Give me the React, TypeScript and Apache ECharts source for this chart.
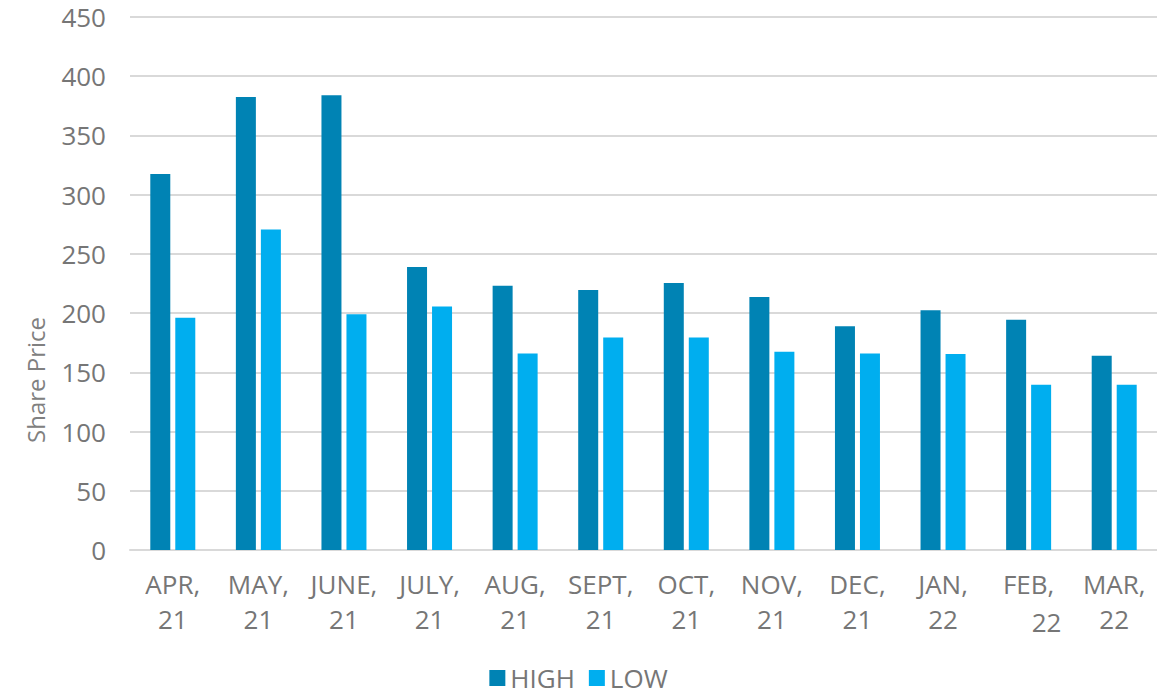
import React, { useEffect, useRef } from "react";
import * as echarts from "echarts";

const categories = ["APR,\n21", "MAY,\n21", "JUNE,\n21", "JULY,\n21", "AUG,\n21", "SEPT,\n21", "OCT,\n21", "NOV,\n21", "DEC,\n21", "JAN,\n22", "FEB,\n22", "MAR,\n22"];
const highValues = [317.5, 382.5, 384, 239, 223, 219.5, 225.5, 213.5, 189, 202.5, 194.5, 164];
const lowValues = [196, 270.5, 199, 205.5, 165.8, 179.5, 179.5, 167.3, 165.8, 165.5, 139.6, 139.6];
const yTicks = { min: 0, max: 450, interval: 50 };
const yTitle = "Share Price";
const seriesNames = ["HIGH", "LOW"];

const FONT = "'Open Sans', 'Noto Sans', sans-serif";
const GRAY = "#767676";

export default function App() {
  const ref = useRef<HTMLDivElement>(null);
  useEffect(() => {
    if (!ref.current) return;
    const chart = echarts.init(ref.current, undefined, { renderer: "svg" });
    chart.setOption({
      animation: false,
      backgroundColor: "#ffffff",
      textStyle: { fontFamily: FONT },
      grid: { left: 130, right: 0, top: 17, bottom: 148, containLabel: false },
      legend: {
        data: seriesNames,
        left: "center",
        top: 665,
        padding: 0,
        icon: "rect",
        itemWidth: 16,
        itemHeight: 16,
        itemGap: 14,
        textStyle: { fontSize: 26, color: GRAY, fontFamily: FONT, lineHeight: 26 },
      },
      xAxis: {
        type: "category",
        data: categories,
        axisLine: { show: true, lineStyle: { color: "#d9d9d9", width: 2 } },
        axisTick: { show: false },
        axisLabel: {
          interval: 0,
          margin: 16,
          color: GRAY,
          fontSize: 26,
          lineHeight: 35,
          fontFamily: FONT,
          formatter: (v: string) => {
            const [a, b] = v.split("\n");
            if (a === "FEB,") return `{a|${a}}\n{f|${b}}`;
            return `{a|${a}}\n{a|${b}}`;
          },
          rich: {
            a: { fontSize: 26, lineHeight: 35, color: GRAY, fontFamily: FONT },
            f: { fontSize: 26, lineHeight: 35, color: GRAY, fontFamily: FONT, padding: [6, 0, 0, 36] },
          },
        },
      },
      yAxis: {
        type: "value",
        min: yTicks.min,
        max: yTicks.max,
        interval: yTicks.interval,
        axisLine: { show: false },
        axisTick: { show: false },
        axisLabel: { color: GRAY, fontSize: 26, margin: 24, fontFamily: FONT },
        splitLine: { lineStyle: { color: "#d9d9d9", width: 2 } },
      },
      graphic: [
        {
          type: "text",
          x: 35,
          y: 380,
          rotation: Math.PI / 2,
          style: {
            text: yTitle,
            fill: "#808080",
            fontSize: 24,
            fontFamily: FONT,
            align: "center",
            verticalAlign: "middle",
          },
        },
      ],
      series: [
        {
          name: seriesNames[0],
          type: "bar",
          data: highValues,
          barWidth: 20,
          barGap: "25%",
          itemStyle: { color: "#0083b4" },
        },
        {
          name: seriesNames[1],
          type: "bar",
          data: lowValues,
          barWidth: 20,
          itemStyle: { color: "#00aeef" },
        },
      ],
    });
    return () => chart.dispose();
  }, []);
  return <div ref={ref} style={{ position: "absolute", left: 0, top: 0, width: 1157, height: 698 }} />;
}
